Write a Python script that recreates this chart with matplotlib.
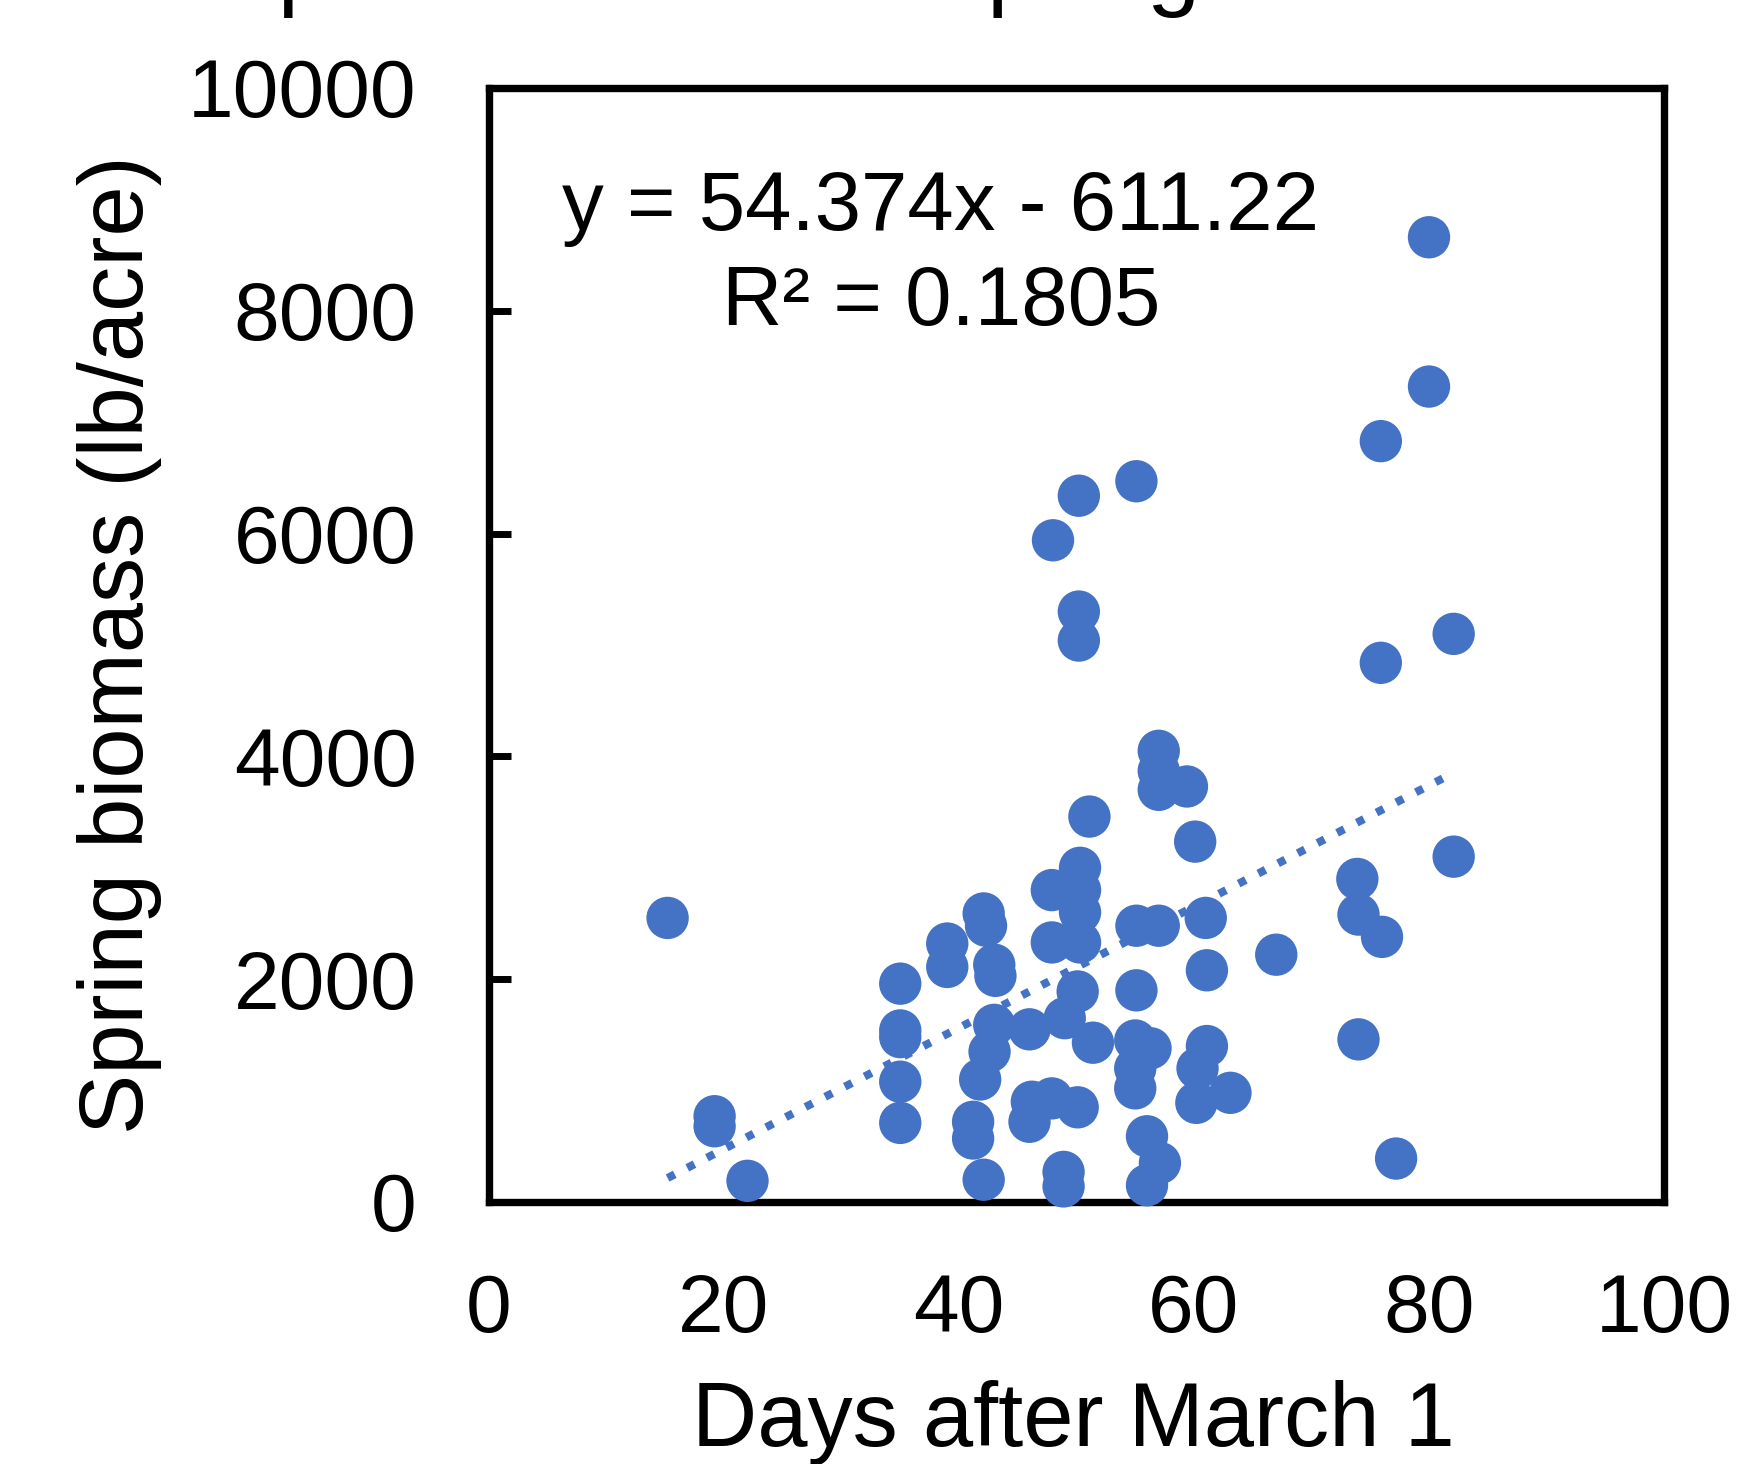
import matplotlib
matplotlib.use("Agg")
import matplotlib.pyplot as plt
import numpy as np

plt.rcParams['font.family'] = ['Liberation Sans', 'DejaVu Sans']

# days after March 1 and spring biomass (lb/acre)
days = [15.2, 19.2, 19.2, 22.0,
        35.0, 35.0, 35.0, 35.0, 35.0,
        39.0, 39.0,
        42.1, 42.3, 43.0, 43.1, 43.0, 42.6, 41.8, 41.2, 41.2, 42.1,
        46.0, 49.0, 51.4, 50.1, 46.2, 46.0, 47.9, 50.1, 48.9, 48.9,
        47.9, 47.9, 50.3, 50.3, 50.3, 50.3, 51.1,
        50.2, 50.2, 48.0, 50.2, 55.1,
        57.0, 57.0, 57.0, 59.4, 60.1, 61.0,
        55.1, 57.0, 61.1, 55.1, 55.0, 56.3, 55.0, 55.0,
        56.0, 57.1, 56.0,
        61.1, 60.3, 60.2, 63.1,
        67.0, 73.9, 74.0, 76.0, 74.0, 77.2,
        75.9, 82.1, 82.1, 75.9, 80.0, 80.0]
biomass = [2550, 770, 680, 190,
           1960, 1540, 1480, 1080, 710,
           2320, 2110,
           2590, 2480, 2130, 2030, 1590, 1350, 1100, 720, 570, 200,
           1550, 1650, 1430, 1890, 900, 720, 930, 850, 270, 140,
           2800, 2330, 3000, 2800, 2600, 2330, 3460,
           5300, 5040, 5940, 6340, 6470,
           4050, 3870, 3700, 3730, 3235, 2550,
           2480, 2480, 2080, 1900, 1450, 1380, 1200, 1020,
           590, 350, 150,
           1400, 1200, 890, 980,
           2220, 2900, 2580, 2380, 1460, 390,
           4840, 5100, 3100, 6830, 7320, 8660]

slope = 54.374
intercept = -611.22
r2 = 0.1805

x_ticks = [0, 20, 40, 60, 80, 100]
y_ticks = [0, 2000, 4000, 6000, 8000, 10000]

title = "Impact of date on spring biomass"
eq_text = "y = 54.374x - 611.22"
r2_text = "R\u00b2 = 0.1805"

blue = '#4472C4'
W, H = 1744, 1464

fig = plt.figure(figsize=(W / 100, H / 100), dpi=100)
ax = fig.add_axes([489 / W, (H - 1202) / H, 1175 / W, 1114 / H])

ax.scatter(days, biomass, s=930, color=blue, edgecolors='none',
           zorder=5, clip_on=False)

tx = np.array([min(days), max(days)])
ax.plot(tx, slope * tx + intercept, color=blue, lw=5.8,
        linestyle=(0, (1, 1.75)), dash_capstyle='butt', zorder=4)

ax.set_xlim(0, 100)
ax.set_ylim(0, 10000)
ax.set_xticks(x_ticks)
ax.set_yticks(y_ticks)
ax.set_xticklabels([str(v) for v in x_ticks])
ax.set_yticklabels([str(v) for v in y_ticks])

for sp in ax.spines.values():
    sp.set_linewidth(5.3)
    sp.set_color('black')

ax.tick_params(axis='x', length=0, pad=51, labelsize=59)
ax.tick_params(axis='y', direction='in', length=16, width=5.0,
               pad=52, labelsize=59)

ax.text(0.3847, 0.8726, eq_text, transform=ax.transAxes, ha='center',
        va='baseline', fontsize=60)
ax.text(0.3847, 0.7873, r2_text, transform=ax.transAxes, ha='center',
        va='baseline', fontsize=60)

fig.text(120 / W, 1 - 645 / H, "Spring biomass (lb/acre)", rotation=90,
         ha='center', va='center', fontsize=65)
fig.text(1073 / W, 1 - 1446 / H, "Days after March 1", ha='center',
         va='baseline', fontsize=65)

# title sits above the top edge, only its descenders show
fig.text(171 / W, 1 + 2 / H, title, ha='left', va='baseline', fontsize=69)

fig.savefig('out.png', dpi=100)
